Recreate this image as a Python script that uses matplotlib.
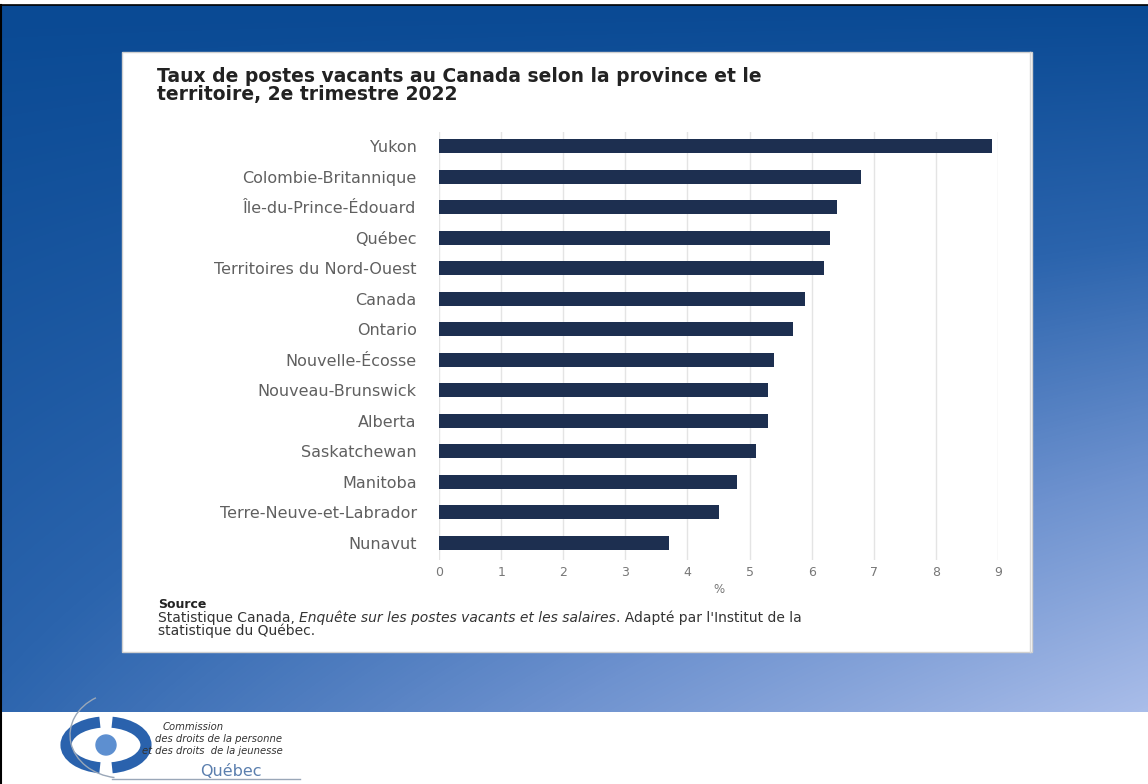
import numpy as np
import matplotlib
matplotlib.use("Agg")
import matplotlib.pyplot as plt
from matplotlib.patches import Rectangle, Arc, Circle
from matplotlib.colors import LinearSegmentedColormap

# ---- data ----
categories = ["Yukon", "Colombie-Britannique", "Île-du-Prince-Édouard", "Québec",
              "Territoires du Nord-Ouest", "Canada", "Ontario", "Nouvelle-Écosse",
              "Nouveau-Brunswick", "Alberta", "Saskatchewan", "Manitoba",
              "Terre-Neuve-et-Labrador", "Nunavut"]
values = [8.9, 6.8, 6.4, 6.3, 6.2, 5.9, 5.7, 5.4, 5.3, 5.3, 5.1, 4.8, 4.5, 3.7]
xticks = [0, 1, 2, 3, 4, 5, 6, 7, 8, 9]
title = "Taux de postes vacants au Canada selon la province et le\nterritoire, 2e trimestre 2022"
xlabel = "%"

W, H = 1148, 784
fig = plt.figure(figsize=(W / 100, H / 100), dpi=100)
fig.patch.set_facecolor("white")

# background layer in pixel coordinates
bg = fig.add_axes([0, 0, 1, 1])
bg.set_xlim(0, W)
bg.set_ylim(H, 0)
bg.axis("off")

# blue gradient
ny, nx = 200, 300
yy, xx = np.mgrid[0:1:ny * 1j, 0:1:nx * 1j]
t = np.clip(yy * (0.35 + 0.65 * xx), 0, 1)
cmap = LinearSegmentedColormap.from_list("slide", ["#0a4a94", "#2b64ad", "#6e92cf", "#a9bde9"])
bg.imshow(t, cmap=cmap, extent=[2, W, 712, 5], aspect="auto", zorder=0, interpolation="bilinear")
bg.plot([2, W], [5, 5], color="black", lw=1.2, zorder=1)
bg.plot([1, 1], [5, H], color="black", lw=1.5, zorder=1)

# white panel
bg.add_patch(Rectangle((122, 52), 910, 600, facecolor="white", edgecolor="#d0d0d0", lw=1.0, zorder=2))
bg.plot([1030, 1030], [52, 652], color="#d8d8d8", lw=1.0, zorder=3)

# title
bg.text(157, 67, title, ha="left", va="top", fontsize=13.5, fontweight="bold",
        color="#222222", linespacing=0.9, zorder=4)

# ---- chart ----
ax = fig.add_axes([439 / W, 1 - 560 / H, (998 - 439) / W, (560 - 132) / H])
ax.set_facecolor("none")
y = np.arange(len(categories))
ax.barh(y, values, height=0.46, color="#1d2f50", zorder=3)
ax.set_ylim(13.557, -0.458)
ax.set_xlim(0, 9)
ax.set_xticks(xticks)
ax.set_xticklabels([str(v) for v in xticks], fontsize=9, color="#777777")
ax.set_yticks(y)
ax.set_yticklabels(categories, fontsize=11.5, color="#606060")
ax.tick_params(axis="y", length=0, pad=16)
ax.tick_params(axis="x", length=0, pad=4)
ax.grid(axis="x", color="#e4e4e4", lw=1.0, zorder=0)
for s in ax.spines.values():
    s.set_visible(False)
ax.set_xlabel(xlabel, fontsize=8.5, color="#777777", labelpad=3)

# ---- source ----
bg.text(158, 605, "Source", ha="left", va="center", fontsize=9, fontweight="bold",
        color="#222222", zorder=4)
fig.canvas.draw()
renderer = fig.canvas.get_renderer()
inv = bg.transData.inverted()
parts = [("Statistique Canada, ", "normal"),
         ("Enquête sur les postes vacants et les salaires", "italic"),
         (". Adapté par l'Institut de la", "normal")]
xpos = 158
for txt, style in parts:
    tt = bg.text(xpos, 618, txt, ha="left", va="center", fontsize=10, style=style,
                 color="#333333", zorder=4)
    bb = tt.get_window_extent(renderer=renderer)
    xpos = inv.transform((bb.x1, bb.y0))[0]
bg.text(158, 631, "statistique du Québec.", ha="left", va="center", fontsize=10,
        color="#333333", zorder=4)

# ---- logo ----
bg.add_patch(Arc((106, 745), 80, 46, theta1=105, theta2=255, lw=8, color="#2a62ad", zorder=4))
bg.add_patch(Arc((106, 745), 80, 46, theta1=-75, theta2=75, lw=8, color="#2a62ad", zorder=4))
bg.add_patch(Circle((106, 745), 10, color="#5d8fd0", zorder=5))
bg.add_patch(Arc((122, 735), 104, 86, theta1=100, theta2=235, lw=1.0, color="#9aa7b8", zorder=4))
bg.plot([112, 300], [779, 779], color="#9aa7b8", lw=1.0, zorder=4)
bg.text(163, 727, "Commission", fontsize=7.2, style="italic", color="#333333", va="center", zorder=5)
bg.text(155, 739, "des droits de la personne", fontsize=7.2, style="italic", color="#333333", va="center", zorder=5)
bg.text(142, 751, "et des droits  de la jeunesse", fontsize=7.2, style="italic", color="#333333", va="center", zorder=5)
bg.text(200, 771, "Québec", fontsize=11.5, color="#5b7fae", va="center", zorder=5)

fig.savefig("out.png", dpi=100, facecolor="white")
